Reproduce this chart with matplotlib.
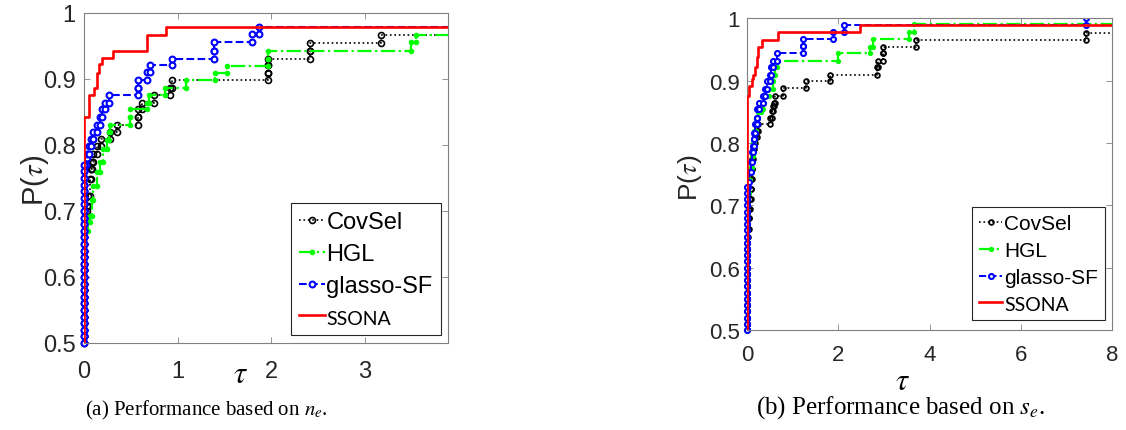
import numpy as np
import matplotlib
matplotlib.use("Agg")
import matplotlib.pyplot as plt

plt.rcParams['font.family'] = ['Liberation Sans', 'DejaVu Sans']
plt.rcParams['mathtext.fontset'] = 'stix'

labels = ['CovSel', 'HGL', 'glasso-SF', 'SSONA']

# (a) performance based on n_e : step points (tau, P)
zero_a = [0.50, 0.51, 0.52, 0.53, 0.54, 0.55, 0.56, 0.57, 0.58, 0.59, 0.60, 0.61, 0.62, 0.63,
          0.64, 0.65, 0.66, 0.67, 0.68, 0.69, 0.70, 0.71, 0.72, 0.73, 0.74, 0.75, 0.76, 0.77]

cov_a_zero = zero_a[:21]
cov_a_tau = [0.028, 0.04, 0.06, 0.07, 0.09, 0.10, 0.135, 0.18, 0.28, 0.357, 0.58, 0.58, 0.62,
             0.749, 0.92, 0.937, 1.97, 1.97, 1.97, 2.42, 2.42, 3.17, 5]
cov_a_p = [0.708, 0.723, 0.748, 0.764, 0.774, 0.786, 0.799, 0.809, 0.819, 0.830, 0.842, 0.854,
           0.863, 0.875, 0.887, 0.899, 0.909, 0.921, 0.931, 0.943, 0.955, 0.967, 0.967]

hgl_a_zero = zero_a[:18]
hgl_a_tau = [0.046, 0.064, 0.082, 0.10, 0.135, 0.171, 0.207, 0.242, 0.271, 0.275, 0.492, 0.492,
             0.677, 0.699, 0.866, 1.09, 1.40, 1.526, 1.97, 1.97, 3.49, 3.55, 5]
hgl_a_p = [0.683, 0.693, 0.716, 0.738, 0.759, 0.774, 0.794, 0.807, 0.819, 0.830, 0.842, 0.854,
           0.863, 0.875, 0.887, 0.899, 0.909, 0.920, 0.931, 0.943, 0.956, 0.967, 0.967]

gl_a_zero = zero_a
gl_a_tau = [0.02, 0.036, 0.057, 0.07, 0.093, 0.135, 0.17, 0.19, 0.225, 0.271, 0.581, 0.581,
            0.677, 0.706, 0.938, 1.39, 1.39, 1.80, 1.865, 5]
gl_a_p = [0.78, 0.786, 0.798, 0.809, 0.819, 0.830, 0.842, 0.854, 0.863, 0.875, 0.887, 0.899,
          0.911, 0.921, 0.931, 0.943, 0.956, 0.968, 0.979, 0.979]

ss_a_tau = [0, 0, 0.057, 0.11, 0.135, 0.164, 0.189, 0.307, 0.67, 0.877, 5]
ss_a_p = [0.5, 0.842, 0.875, 0.886, 0.909, 0.923, 0.932, 0.943, 0.967, 0.978, 0.978]

# (b) performance based on s_e
zero_b = [0.50, 0.51, 0.52, 0.53, 0.54, 0.55, 0.56, 0.57, 0.58, 0.59, 0.60, 0.61, 0.62, 0.63,
          0.64, 0.65, 0.66, 0.67, 0.68, 0.69, 0.70, 0.71, 0.72, 0.73]

cov_b_zero = zero_b[:16]
cov_b_tau = [0.029, 0.04, 0.051, 0.066, 0.08, 0.09, 0.102, 0.12, 0.14, 0.16, 0.175, 0.212, 0.249,
             0.504, 0.541, 0.57, 0.592, 0.614, 0.797, 1.294, 1.82, 2.858, 2.88, 2.99, 2.99,
             3.706, 7.43, 10]
cov_b_p = [0.662, 0.68, 0.695, 0.71, 0.726, 0.742, 0.758, 0.774, 0.79, 0.80, 0.81, 0.82, 0.831,
           0.841, 0.852, 0.86, 0.865, 0.876, 0.888, 0.90, 0.909, 0.922, 0.932, 0.945, 0.955,
           0.966, 0.977, 0.977]

hgl_b_zero = zero_b[:23]
hgl_b_tau = [0.04, 0.07, 0.10, 0.13, 0.16, 0.20, 0.25, 0.30, 0.344, 0.38, 0.48, 0.56, 0.58, 0.61,
             0.665, 2.0, 2.70, 2.77, 3.56, 3.66, 10]
hgl_b_p = [0.74, 0.76, 0.78, 0.80, 0.82, 0.84, 0.85, 0.855, 0.865, 0.876, 0.887, 0.899, 0.909,
           0.922, 0.932, 0.945, 0.955, 0.967, 0.979, 0.991, 0.991]

gl_b_zero = zero_b
gl_b_tau = [0.029, 0.051, 0.08, 0.102, 0.139, 0.153, 0.16, 0.175, 0.212, 0.227, 0.27, 0.344,
            0.395, 0.431, 0.504, 0.519, 0.563, 0.665, 1.235, 1.235, 1.893, 2.127, 7.43, 10]
gl_b_p = [0.737, 0.753, 0.769, 0.785, 0.796, 0.807, 0.817, 0.831, 0.841, 0.855, 0.865, 0.876,
          0.887, 0.899, 0.909, 0.922, 0.932, 0.945, 0.956, 0.967, 0.979, 0.99, 1.0, 1.0]

ss_b_tau = [0, 0, 0.051, 0.102, 0.139, 0.175, 0.227, 0.24, 0.32, 0.687, 2.48, 10]
ss_b_p = [0.5, 0.876, 0.892, 0.903, 0.909, 0.922, 0.938, 0.955, 0.966, 0.979, 0.99, 0.99]


def stairs(ax, zero, tau, p, **kw):
    # MATLAB-like stairs: vertices at both corners of each step
    t = np.array([0.0] * len(zero) + list(tau))
    y = np.array(list(zero) + list(p))
    xs = np.repeat(t, 2)[1:]
    ys = np.repeat(y, 2)[:-1]
    line, = ax.plot(xs, ys, **kw)
    if len(zero) and kw.get('marker'):
        # markers sitting on the left spine are not clipped
        mk = {k: v for k, v in kw.items() if k not in ('ls', 'label', 'lw')}
        ax.plot(np.zeros(len(zero)), zero, ls='none', clip_on=False, **mk)
    return line


def style_axes(ax, xlim, xticks, fs, xpad, ypad):
    ax.set_xlim(*xlim)
    ax.set_ylim(0.5, 1.0)
    ax.set_xticks(xticks)
    ax.set_yticks([0.5, 0.6, 0.7, 0.8, 0.9, 1.0])
    ax.set_yticklabels(['0.5', '0.6', '0.7', '0.8', '0.9', '1'])
    ax.tick_params(direction='in', length=4, width=0.6, color='#808080', labelcolor='#262626',
                   labelsize=fs, top=True, right=True)
    ax.tick_params(axis='x', pad=xpad)
    ax.tick_params(axis='y', pad=ypad)
    for s in ax.spines.values():
        s.set_color('#808080')
        s.set_linewidth(0.8)


fig = plt.figure(figsize=(11.26, 4.31), dpi=100)
ax1 = fig.add_axes([0.0746, 0.2019, 0.3233, 0.7657])
ax2 = fig.add_axes([0.6634, 0.2320, 0.3242, 0.7228])

# panel (a)
stairs(ax1, cov_a_zero, cov_a_tau, cov_a_p, color='black', ls=':', lw=1.2, marker='o',
       ms=4.3, mfc='none', mew=1.2, label=labels[0])
stairs(ax1, hgl_a_zero, hgl_a_tau, hgl_a_p, color='#00ff00', ls='-.', lw=1.6, marker='.',
       ms=6, label=labels[1])
stairs(ax1, gl_a_zero, gl_a_tau, gl_a_p, color='#0000ff', ls='--', lw=1.5, marker='o',
       ms=4.2, mfc='white', mew=1.5, label=labels[2])
stairs(ax1, [], ss_a_tau, ss_a_p, color='#ff0000', ls='-', lw=1.9, label=labels[3], zorder=5)
style_axes(ax1, (0, 3.89), [0, 1, 2, 3], 17, 12, 6)
ax1.text(0.43, -0.095, r'$\tau$', transform=ax1.transAxes, ha='center', va='center', fontsize=22)

# panel (b)
stairs(ax2, cov_b_zero, cov_b_tau, cov_b_p, color='black', ls=':', lw=1.2, marker='o',
       ms=3.4, mfc='none', mew=1.3, label=labels[0])
stairs(ax2, hgl_b_zero, hgl_b_tau, hgl_b_p, color='#00ff00', ls='-.', lw=1.6, marker='.',
       ms=5.5, label=labels[1])
stairs(ax2, gl_b_zero, gl_b_tau, gl_b_p, color='#0000ff', ls='--', lw=1.4, marker='o',
       ms=3.6, mfc='white', mew=1.5, label=labels[2])
stairs(ax2, [], ss_b_tau, ss_b_p, color='#ff0000', ls='-', lw=1.9, label=labels[3], zorder=5)
style_axes(ax2, (0, 8), [0, 2, 4, 6, 8], 16, 10, 5)
ax2.text(0.427, -0.165, r'$\tau$', transform=ax2.transAxes, ha='center', va='center', fontsize=22)

# y labels
fig.text(35 / 1126, 1 - 180 / 431, r'P($\tau$)', rotation=90, ha='center', va='center',
         fontsize=21, color='#262626')
fig.text(690 / 1126, 1 - 178 / 431, r'P($\tau$)', rotation=90, ha='center', va='center',
         fontsize=19, color='#262626')

# legends
for ax, anchor, fs, fs_ss, spacing, pad in [(ax1, (291 / 1126, 1 - 204 / 431), 17, 14, 0.42, 0.05),
                                            (ax2, (972 / 1126, 1 - 208 / 431), 15, 14, 0.38, 0.1)]:
    leg = ax.legend(loc='upper left', bbox_to_anchor=anchor, bbox_transform=fig.transFigure,
                    fontsize=fs, handlelength=1.1, handletextpad=pad, borderpad=0.35,
                    labelspacing=spacing, borderaxespad=0, fancybox=False, framealpha=1,
                    edgecolor='#262626')
    leg.get_frame().set_linewidth(0.8)
    leg.set_zorder(10)
    t = leg.get_texts()[3]
    t.set_fontfamily('Lato')
    t.set_fontsize(fs_ss)

# captions
fig.text(206 / 1126, 1 - 410 / 431, r'(a) Performance based on $n_e$.', ha='center', va='center',
         fontsize=15, family='Liberation Serif')
fig.text(901 / 1126, 1 - 408 / 431, r'(b) Performance based on $s_e$.', ha='center', va='center',
         fontsize=18, family='Liberation Serif')

fig.savefig('out.png', dpi=100)
